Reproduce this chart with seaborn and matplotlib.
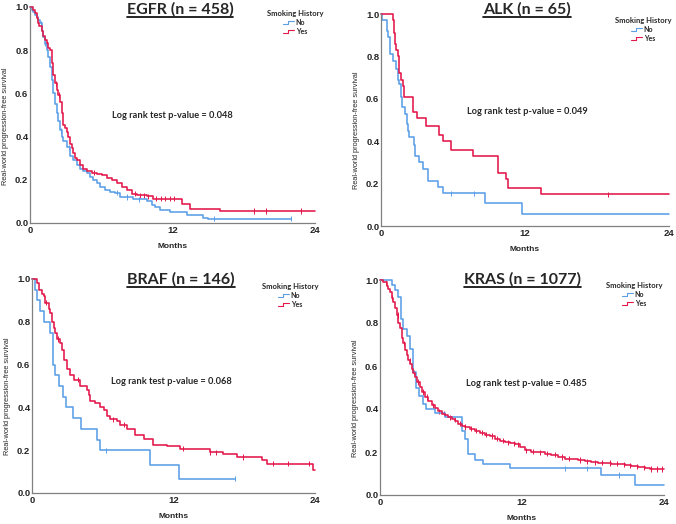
import numpy as np
import pandas as pd
import matplotlib
matplotlib.use("Agg")
import matplotlib.pyplot as plt
from matplotlib.lines import Line2D
from matplotlib.legend_handler import HandlerBase
import seaborn as sns

sns.set_style("white")
plt.rcParams["font.family"] = ["Liberation Sans", "DejaVu Sans"]

BLUE = "#5a9fe6"
RED = "#e3174a"

# ---- EGFR ----
egfr_no_t = [0, 0.14, 0.28, 0.42, 0.56, 0.70, 0.84, 0.98, 1.12, 1.26, 1.40, 1.54, 1.68, 1.82, 1.96,
             2.11, 2.25, 2.39, 2.53, 2.67, 2.81, 3.09, 3.37, 3.65, 3.93, 4.21, 4.49, 4.77, 5.05, 5.33,
             5.61, 5.89, 6.32, 6.74, 7.16, 7.58, 8.70, 9.82, 10.25, 10.53, 10.95, 11.79, 13.19, 14.60,
             15.02, 22.0]
egfr_no_s = [1.0, 0.985, 0.975, 0.965, 0.955, 0.94, 0.925, 0.89, 0.86, 0.83, 0.80, 0.77, 0.72, 0.66,
             0.60, 0.55, 0.51, 0.47, 0.43, 0.40, 0.38, 0.35, 0.31, 0.29, 0.27, 0.25, 0.24, 0.23, 0.215,
             0.20, 0.185, 0.167, 0.155, 0.145, 0.14, 0.12, 0.11, 0.10, 0.085, 0.074, 0.059, 0.051, 0.036,
             0.025, 0.019, 0.019]
egfr_no_cens = [0.9, 1.3, 2.6, 3.3, 7.3, 8.2, 9.2, 15.5, 22.0]
egfr_yes_t = [0, 0.28, 0.42, 0.56, 0.70, 0.79, 0.98, 1.12, 1.26, 1.40, 1.54, 1.68, 1.82, 1.96, 2.11,
              2.25, 2.39, 2.53, 2.67, 2.81, 2.95, 3.09, 3.23, 3.37, 3.51, 3.65, 3.79, 3.99, 4.21, 4.49,
              4.77, 5.19, 5.61, 6.04, 6.46, 6.88, 7.30, 7.72, 8.14, 8.56, 8.98, 9.82, 10.39, 12.35,
              12.77, 13.47, 16.0, 24.0]
egfr_yes_s = [1.0, 0.985, 0.972, 0.949, 0.926, 0.91, 0.887, 0.864, 0.848, 0.833, 0.81, 0.80, 0.74,
              0.686, 0.647, 0.616, 0.593, 0.562, 0.508, 0.454, 0.438, 0.423, 0.40, 0.368, 0.345, 0.322,
              0.30, 0.291, 0.268, 0.252, 0.241, 0.232, 0.229, 0.221, 0.209, 0.198, 0.183, 0.167, 0.152,
              0.136, 0.128, 0.124, 0.113, 0.11, 0.09, 0.067, 0.056, 0.056]
egfr_yes_cens = [2.2, 2.4, 5.4, 8.8, 9.3, 9.6, 9.9, 10.6, 11.0, 11.4, 11.8, 12.1, 18.9, 19.9, 22.8]

# ---- ALK ----
alk_no_t = [0, 0.06, 0.50, 0.61, 0.75, 0.97, 1.25, 1.39, 1.47, 1.67, 1.72, 2.03, 2.17, 2.28, 2.36,
            2.78, 2.86, 3.14, 3.50, 3.90, 4.73, 5.14, 8.70, 11.76, 24.0]
alk_no_s = [1.0, 0.97, 0.92, 0.89, 0.81, 0.78, 0.74, 0.69, 0.67, 0.61, 0.56, 0.53, 0.48, 0.45, 0.42,
            0.38, 0.33, 0.30, 0.27, 0.21, 0.185, 0.154, 0.107, 0.057, 0.057]
alk_no_cens = [5.84, 7.79]
alk_yes_t = [0, 0.97, 1.06, 1.17, 1.25, 1.39, 1.53, 1.67, 1.81, 1.95, 2.64, 2.98, 3.75, 4.81, 5.14,
             5.84, 7.65, 9.73, 10.43, 10.57, 13.35, 24.0]
alk_yes_s = [1.0, 0.97, 0.91, 0.86, 0.83, 0.80, 0.72, 0.69, 0.66, 0.61, 0.54, 0.51, 0.47, 0.43, 0.40,
             0.36, 0.33, 0.25, 0.22, 0.18, 0.15, 0.15]
alk_yes_cens = [18.9]

# ---- BRAF ----
braf_no_t = [0, 0.28, 0.42, 0.71, 0.99, 1.55, 1.75, 1.98, 2.32, 2.60, 2.88, 3.47, 4.18, 5.50, 5.79,
             10.02, 12.50, 17.2]
braf_no_s = [1.0, 0.95, 0.90, 0.85, 0.80, 0.75, 0.60, 0.55, 0.50, 0.45, 0.40, 0.35, 0.30, 0.25, 0.20,
             0.133, 0.067, 0.067]
braf_no_cens = [6.3, 17.2]
braf_yes_t = [0, 0.42, 0.56, 0.85, 0.99, 1.13, 1.41, 1.55, 1.69, 1.84, 1.98, 2.12, 2.40, 2.54, 2.68,
              2.96, 3.25, 3.53, 4.09, 4.66, 4.80, 4.94, 5.36, 5.79, 6.07, 6.35, 6.63, 7.20, 7.48, 8.05,
              8.75, 9.46, 10.30, 11.43, 12.56, 15.10, 16.23, 17.36, 19.48, 19.90, 23.86, 24.0]
braf_yes_s = [1.0, 0.98, 0.95, 0.93, 0.92, 0.89, 0.86, 0.84, 0.80, 0.77, 0.75, 0.72, 0.70, 0.67, 0.62,
              0.58, 0.55, 0.53, 0.50, 0.48, 0.46, 0.43, 0.42, 0.40, 0.39, 0.36, 0.345, 0.335, 0.32, 0.30,
              0.27, 0.254, 0.226, 0.218, 0.207, 0.19, 0.18, 0.168, 0.153, 0.137, 0.106, 0.106]
braf_yes_cens = [1.2, 2.2, 3.9, 6.9, 7.8, 12.8, 15.1, 15.6, 17.9, 20.4, 21.7, 23.5]

# ---- KRAS ----
kras_no_t = [0, 0.98, 1.27, 1.55, 1.74, 1.97, 2.25, 2.53, 2.81, 3.01, 3.32, 3.66, 3.86, 4.64, 5.49,
             6.95, 7.17, 7.46, 8.02, 8.72, 10.97, 18.71, 21.52, 24.0]
kras_no_s = [1.0, 0.977, 0.953, 0.92, 0.82, 0.77, 0.74, 0.68, 0.57, 0.50, 0.46, 0.425, 0.40, 0.383,
             0.365, 0.30, 0.26, 0.19, 0.165, 0.145, 0.124, 0.093, 0.047, 0.047]
kras_no_cens = [15.6, 17.5, 20.2]
kras_yes_t = [0, 0.28, 0.56, 0.70, 0.84, 0.98, 1.13, 1.27, 1.41, 1.55, 1.69, 1.83, 1.97, 2.11, 2.25,
              2.39, 2.53, 2.67, 2.81, 2.95, 3.15, 3.38, 3.57, 3.80, 4.08, 4.36, 4.64, 4.92, 5.21, 5.49,
              5.77, 6.05, 6.33, 6.61, 6.89, 7.17, 7.60, 8.02, 8.44, 8.86, 9.29, 9.71, 10.13, 10.55,
              10.97, 11.40, 11.82, 12.24, 12.80, 13.37, 13.93, 14.49, 15.05, 15.62, 16.18, 16.74,
              17.30, 17.87, 18.43, 18.99, 19.56, 20.12, 20.68, 21.25, 21.81, 22.37, 22.79, 24.0]
kras_yes_s = [1.0, 0.99, 0.973, 0.96, 0.946, 0.918, 0.90, 0.868, 0.837, 0.798, 0.775, 0.731, 0.705,
              0.673, 0.65, 0.627, 0.607, 0.588, 0.569, 0.549, 0.526, 0.502, 0.479, 0.456, 0.435, 0.417,
              0.404, 0.39, 0.378, 0.37, 0.361, 0.353, 0.342, 0.331, 0.323, 0.316, 0.308, 0.30, 0.289,
              0.281, 0.274, 0.261, 0.253, 0.246, 0.241, 0.236, 0.222, 0.207, 0.202, 0.199, 0.193,
              0.187, 0.177, 0.168, 0.166, 0.163, 0.157, 0.152, 0.151, 0.149, 0.146, 0.142, 0.138,
              0.134, 0.129, 0.126, 0.121, 0.121]
kras_yes_cens = [0.5, 1.0, 1.5, 2.0, 2.5, 2.9, 3.2, 3.6, 4.0, 4.5, 5.0, 5.4, 5.9, 6.3, 6.8, 7.2, 7.7,
                 8.1, 8.6, 9.0, 9.5, 9.9, 10.4, 10.8, 11.3, 11.7, 12.3, 12.9, 13.5, 14.1, 14.8, 15.4,
                 16.0, 16.9, 17.5, 18.2, 18.8, 19.4, 20.0, 20.6, 21.1, 21.7, 22.3, 22.9, 23.4, 23.8]

panels = [
    ("EGFR (n = 458)", "Log rank test p-value = 0.048",
     (egfr_no_t, egfr_no_s, egfr_no_cens), (egfr_yes_t, egfr_yes_s, egfr_yes_cens)),
    ("ALK (n = 65)", "Log rank test p-value = 0.049",
     (alk_no_t, alk_no_s, alk_no_cens), (alk_yes_t, alk_yes_s, alk_yes_cens)),
    ("BRAF (n = 146)", "Log rank test p-value = 0.068",
     (braf_no_t, braf_no_s, braf_no_cens), (braf_yes_t, braf_yes_s, braf_yes_cens)),
    ("KRAS (n = 1077)", "Log rank test p-value = 0.485",
     (kras_no_t, kras_no_s, kras_no_cens), (kras_yes_t, kras_yes_s, kras_yes_cens)),
]

W, H = 676, 524
# axes boxes in pixels: left, top, right, bottom
boxes = [(30, 7, 315, 223), (381, 14, 669, 226), (32, 279, 315, 493), (380, 280, 664, 495)]
title_pos = [(180, 9), (527, 9), (181, 279), (522, 279)]
pval_pos = [(12.0, 0.50), (12.2, 0.54), (11.8, 0.52), (12.4, 0.52)]
# legend: right edge and top, pixels
legend_pos = [(324, 9), (672, 16), (319, 282), (663, 281)]


class StepHandler(HandlerBase):
    def create_artists(self, legend, orig_handle, xdescent, ydescent, width, height, fontsize, trans):
        x = np.array([0, 0.45, 0.45, 1.0]) * width - xdescent
        y = np.array([0.15, 0.15, 0.85, 0.85]) * height - ydescent
        ln = Line2D(x, y, color=orig_handle.get_color(), lw=0.8)
        ln.set_transform(trans)
        return [ln]


def frame(t, s, cens, group):
    d = pd.DataFrame({"months": t, "surv": s})
    d["group"] = group
    t_arr = np.array(t)
    s_arr = np.array(s)
    idx = np.searchsorted(t_arr, cens, side="right") - 1
    c = pd.DataFrame({"months": cens, "surv": s_arr[idx]})
    c["group"] = group
    return d, c


fig = plt.figure(figsize=(W / 100, H / 100), dpi=100)
palette = {"No": BLUE, "Yes": RED}
titles = []

for i, (title, ptxt, no, yes) in enumerate(panels):
    l, t, r, b = boxes[i]
    ax = fig.add_axes([l / W, 1 - b / H, (r - l) / W, (b - t) / H])
    d1, c1 = frame(*no, "No")
    d2, c2 = frame(*yes, "Yes")
    df = pd.concat([d1, d2], ignore_index=True)
    cf = pd.concat([c1, c2], ignore_index=True)

    sns.lineplot(data=df, x="months", y="surv", hue="group", palette=palette,
                 drawstyle="steps-post", estimator=None, sort=False, lw=1.15,
                 legend=False, ax=ax, clip_on=False)
    sns.scatterplot(data=cf, x="months", y="surv", hue="group", palette=palette,
                    marker="|", s=14, linewidth=0.7, legend=False, ax=ax, clip_on=False)

    ax.set_xlim(0, 24)
    ax.set_ylim(0, 1.0)
    ax.set_xticks([0, 12, 24])
    ax.set_xticklabels(["0", "12", "24"])
    ax.set_yticks([0, 0.2, 0.4, 0.6, 0.8, 1.0])
    ax.set_yticklabels(["0.0", "0.2", "0.4", "0.6", "0.8", "1.0"])
    ax.tick_params(axis="both", length=0, labelsize=6.8)
    ax.tick_params(axis="x", pad=2.5)
    ax.tick_params(axis="y", pad=1.2)
    for lab in ax.get_xticklabels() + ax.get_yticklabels():
        lab.set_fontweight("bold")
    for sp in ["top", "right"]:
        ax.spines[sp].set_visible(False)
    for sp in ["left", "bottom"]:
        ax.spines[sp].set_color("#808080")
        ax.spines[sp].set_linewidth(0.9)

    ax.set_xlabel("Months", fontsize=6, fontweight="bold")
    ax.set_ylabel("Real-world progression-free survival", fontsize=5.3)
    pw, ph = r - l, b - t
    ax.xaxis.set_label_coords(0.5, -20 / ph)
    ax.yaxis.set_label_coords(-21 / pw, 0.45)

    ax.text(pval_pos[i][0], pval_pos[i][1], ptxt, ha="center", va="center",
            fontsize=6.7, fontweight="bold", family=["Lato", "DejaVu Sans"])

    tx, ty = title_pos[i]
    titles.append(fig.text(tx / W, 1 - ty / H, title, ha="center", va="center",
                           fontsize=11.5, fontweight="bold", family=["Lato", "DejaVu Sans"]))

    handles = [Line2D([], [], color=BLUE), Line2D([], [], color=RED)]
    lx, ly = legend_pos[i]
    leg = fig.legend(handles, ["No", "Yes"], title="Smoking History",
                     loc="upper right", bbox_to_anchor=(lx / W, 1 - ly / H),
                     frameon=False, handler_map={Line2D: StepHandler()},
                     handlelength=1.6, handletextpad=0.2, labelspacing=0.3,
                     borderpad=0.1, borderaxespad=0.0,
                     prop={"family": ["Lato", "DejaVu Sans"], "size": 5.0, "weight": "bold"},
                     title_fontproperties={"family": ["Lato", "DejaVu Sans"], "size": 5.5,
                                           "weight": "bold"})

# underline the panel titles
fig.canvas.draw()
renderer = fig.canvas.get_renderer()
for tt in titles:
    bb = tt.get_window_extent(renderer)
    y = (bb.y0 - 0.5) / H
    fig.add_artist(Line2D([bb.x0 / W, bb.x1 / W], [y, y], transform=fig.transFigure,
                          color="black", lw=1.2))

fig.savefig("out.png", dpi=100)
